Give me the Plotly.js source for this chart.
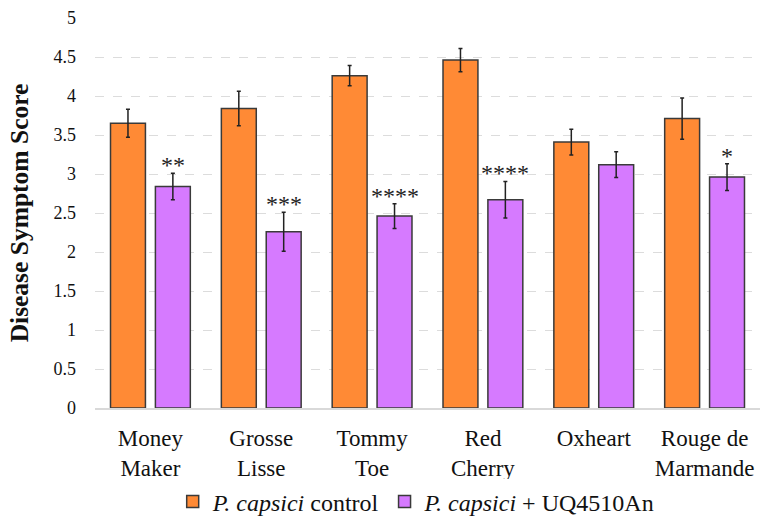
<!DOCTYPE html>
<html>
<head>
<meta charset="utf-8">
<script src="https://cdn.plot.ly/plotly-3.0.1.min.js"></script>
<style>
  html, body { margin: 0; padding: 0; background: #fff; }
  #chart { width: 761px; height: 518px; }
</style>
</head>
<body>
<div id="chart"></div>
<script>
// Tomato cultivars and mean disease scores (± error) for each treatment
const categories = ['Money<br>Maker', 'Grosse<br>Lisse', 'Tommy<br>Toe', 'Red<br>Cherry', 'Oxheart', 'Rouge de<br>Marmande'];
const controlMean = [3.65, 3.84, 4.26, 4.46, 3.41, 3.71];
const controlErr = [0.18, 0.22, 0.13, 0.15, 0.165, 0.265];
const treatedMean = [2.84, 2.26, 2.46, 2.67, 3.12, 2.96];
const treatedErr = [0.17, 0.25, 0.16, 0.235, 0.165, 0.17];
const significance = ['**', '***', '****', '****', '', '*'];
const seriesNames = ['<i>P. capsici</i> control', '<i>P. capsici</i> + UQ4510An'];
const yTicks = [0, 0.5, 1, 1.5, 2, 2.5, 3, 3.5, 4, 4.5, 5];

const FONT = 'Liberation Serif, Times New Roman, Times, serif';
const BARGAP = 0.19;
const BARGROUPGAP = 0.222;

function barTrace(name, means, errs, color) {
  return {
    type: 'bar',
    name: name,
    x: categories,
    y: means,
    marker: { color: color, line: { color: '#3a3a3a', width: 1.5 } },
    error_y: { type: 'data', array: errs, visible: true, color: '#222', thickness: 1.5, width: 2 },
    hoverinfo: 'skip'
  };
}

const traces = [
  barTrace(seriesNames[0], controlMean, controlErr, '#FF8A35'),
  barTrace(seriesNames[1], treatedMean, treatedErr, '#D67AFF')
];

// significance stars sit above the treated bar's error whisker
const slot = (1 - BARGAP) / 2;
const annotations = [];
significance.forEach((s, i) => {
  if (!s) return;
  annotations.push({
    x: i + slot / 2,
    y: treatedMean[i] + treatedErr[i],
    xref: 'x', yref: 'y',
    text: s,
    showarrow: false,
    yanchor: 'bottom',
    yshift: -7,
    font: { family: FONT, size: 24, color: '#222' }
  });
});

const layout = {
  width: 761,
  height: 518,
  margin: { l: 95, r: 1, t: 18, b: 110, autoexpand: false },
  paper_bgcolor: '#fff',
  plot_bgcolor: '#fff',
  font: { family: FONT, color: '#111' },
  barmode: 'group',
  bargap: BARGAP,
  bargroupgap: BARGROUPGAP,
  showlegend: true,
  legend: {
    orientation: 'h',
    x: 0.483, xanchor: 'center',
    y: -0.241, yanchor: 'middle',
    font: { family: FONT, size: 24, color: '#111' },
    itemwidth: 30,
    traceorder: 'normal'
  },
  xaxis: {
    type: 'category',
    tickfont: { family: FONT, size: 23, color: '#111' },
    showline: true,
    linecolor: '#d9d9d9',
    linewidth: 1.5,
    showgrid: false,
    ticks: '',
    ticklabelstandoff: 9,
    fixedrange: true
  },
  yaxis: {
    range: [0, 5],
    tickvals: yTicks,
    ticktext: yTicks.map(String),
    tickfont: { family: FONT, size: 18, color: '#111' },
    showgrid: true,
    gridcolor: '#dcdcdc',
    griddash: 'dash',
    gridwidth: 1,
    zeroline: false,
    showline: false,
    ticks: '',
    ticklabelstandoff: 18,
    title: { text: '<b>Disease Symptom Score</b>', font: { family: FONT, size: 25.5, color: '#111' }, standoff: 17 },
    fixedrange: true
  },
  annotations: annotations
};

Plotly.newPlot('chart', traces, layout, { displayModeBar: false, staticPlot: true });
</script>
</body>
</html>
